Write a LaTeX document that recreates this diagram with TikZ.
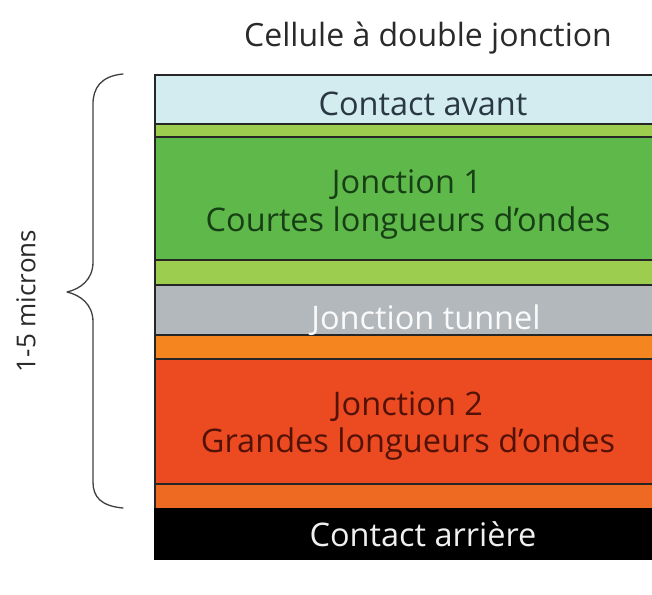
\documentclass[tikz,border=0pt]{standalone}
\usepackage{fontspec}
\setmainfont{Open Sans}
\definecolor{cavant}{HTML}{D3ECEF}
\definecolor{lime}{HTML}{9DCD4E}
\definecolor{jgreen}{HTML}{5FB94A}
\definecolor{tgray}{HTML}{B3B8BD}
\definecolor{orangeA}{HTML}{F5861F}
\definecolor{jred}{HTML}{EC4A21}
\definecolor{orangeB}{HTML}{EE6A23}
\definecolor{edge}{HTML}{262626}
\definecolor{titlegray}{HTML}{2A2A2A}
\definecolor{txtavant}{HTML}{2A3844}
\definecolor{txtgreen}{HTML}{173F15}
\definecolor{txtred}{HTML}{521206}
\begin{document}
\begin{tikzpicture}[x=1pt,y=-1pt,
  layer/.style={draw=edge, line width=1.4pt, anchor=north west, inner sep=0pt,
    minimum width=540pt, outer sep=0pt},
  lbl/.style={font=\fontsize{32.5}{37}\selectfont, align=center, anchor=base, inner sep=0pt},
  bracepen/.style={draw=black!75, line width=1.3pt, line cap=round, line join=round}]
\useasboundingbox (0,0) rectangle (652,594);
\fill[white] (0,0) rectangle (652,594);
\clip (0,0) rectangle (652,594);

% layer stack, top to bottom
\node[layer, fill=cavant,  minimum height=49pt]  (avant)  at (155,75)  {};
\node[layer, fill=lime,    minimum height=13pt]  (limeA)  at (155,124) {};
\node[layer, fill=jgreen,  minimum height=123pt] (jun1)   at (155,137) {};
\node[layer, fill=lime,    minimum height=25pt]  (limeB)  at (155,260) {};
\node[layer, fill=tgray,   minimum height=50pt]  (tunnel) at (155,285) {};
\node[layer, fill=orangeA, minimum height=24pt]  (orA)    at (155,335) {};
\node[layer, fill=jred,    minimum height=125pt] (jun2)   at (155,359) {};
\node[layer, fill=orangeB, minimum height=25pt]  (orB)    at (155,484) {};
\node[layer, fill=black, draw=black, minimum height=50pt] (arriere) at (155,509) {};

% layer captions
\node[lbl, text=titlegray, font=\fontsize{32}{36}\selectfont] (title) at (428,47) {Cellule à double jonction};
\node[lbl, text=txtavant] (tavant) at (423,115) {Contact avant};
\node[lbl, text=txtgreen] (tjun1a) at (407,193) {Jonction 1};
\node[lbl, text=txtgreen] (tjun1b) at (408,231) {Courtes longueurs d’ondes};
\node[lbl, text=white!93!tgray] (ttunnel) at (426,329) {Jonction tunnel};
\node[lbl, text=txtred] (tjun2a) at (408,415) {Jonction 2};
\node[lbl, text=txtred] (tjun2b) at (408,452) {Grandes longueurs d’ondes};
\node[lbl, text=white!94!black] (tarriere) at (423,546) {Contact arrière};

% thickness brace and its label
\coordinate (btop) at (123,74);
\coordinate (bbot) at (123,508);
\coordinate (btip) at (67,292);
\draw[bracepen] (btop) .. controls (101,76) and (93,88) .. (93,104) -- (93,262)
  .. controls (93,280) and (80,289) .. (btip)
  .. controls (80,295) and (93,304) .. (93,322) -- (93,482)
  .. controls (93,497) and (101,506) .. (bbot);
\node[font=\fontsize{26}{30}\selectfont, text=titlegray, rotate=90, inner sep=0pt] (thick) at (26,301) {1-5 microns};
\end{tikzpicture}
\end{document}
